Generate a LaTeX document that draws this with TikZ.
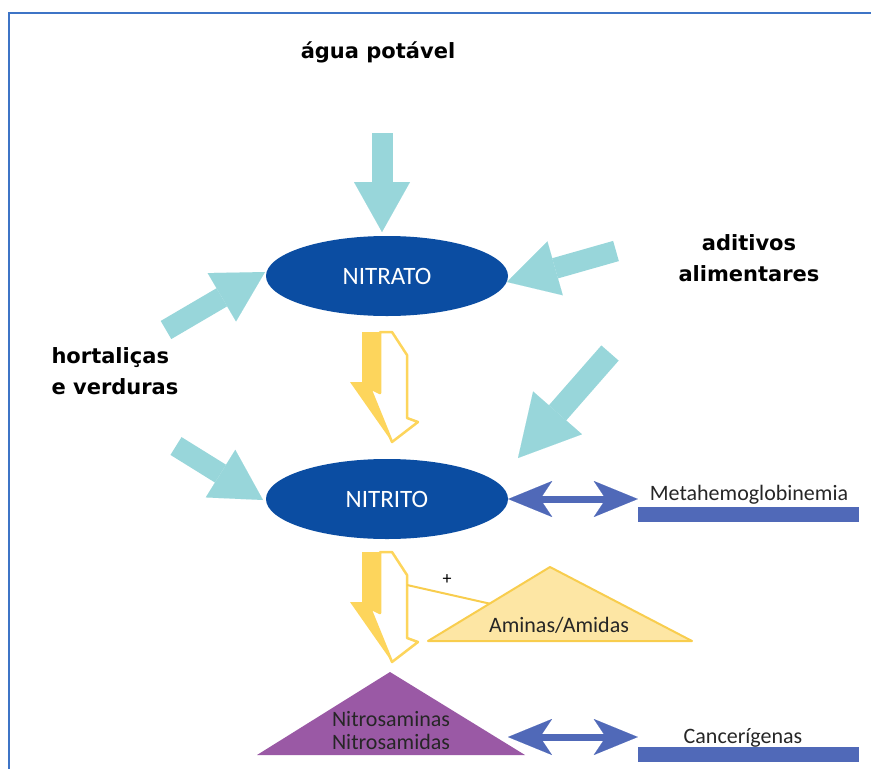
\documentclass[tikz,border=0pt]{standalone}
\usepackage{fontspec}
\setmainfont{Carlito}
\newfontfamily\labelfont{DejaVu Sans}
\usetikzlibrary{arrows.meta, shapes.geometric, positioning, calc}

\definecolor{feedcyan}{RGB}{152,214,218}
\definecolor{compblue}{RGB}{11,77,162}
\definecolor{boltyellow}{RGB}{253,213,92}
\definecolor{aminfill}{RGB}{253,230,164}
\definecolor{aminline}{RGB}{248,205,78}
\definecolor{nitropurple}{RGB}{154,89,165}
\definecolor{effectblue}{RGB}{80,105,184}
\definecolor{framecol}{RGB}{62,116,198}

\tikzset{
  compound/.style={ellipse, fill=compblue, minimum width=242pt, minimum height=80pt,
    inner sep=0pt, text=white, font=\fontsize{25}{28}\selectfont},
  source/.style={font=\labelfont\bfseries\fontsize{21}{31}\selectfont},
  feedarrow/.style={draw=feedcyan, line width=21pt,
    -{Triangle[length=50pt, width=56pt, line width=0.01pt]}},
  feedbig/.style={draw=feedcyan, line width=23pt,
    -{Triangle[length=60pt, width=65pt, line width=0.01pt]}},
  duo/.style={draw=effectblue, line width=7pt,
    {Stealth[length=44pt, width=36pt, inset=12pt, line width=0.01pt]}-{Stealth[length=44pt, width=36pt, inset=12pt, line width=0.01pt]}},
  effectbar/.style={fill=effectblue, minimum width=221pt, minimum height=15pt, inner sep=0pt},
  effect/.style={font=\fontsize{22}{24}\selectfont, text=black!85},
  bolt/.pic={
    \filldraw[fill=white, draw=boltyellow, line width=2.5pt, line join=round]
      (18,0) -- (30,0) -- (45,23) -- (45,86) -- (56,90) -- (30,110) -- (8,56) -- (18,61) -- cycle;
    \fill[boltyellow] (0,0) -- (18,0) -- (18,61) -- (8,56) -- (30,110) -- (-12,50) -- (0,50) -- cycle;
    \coordinate (-side) at (45,33);
  }
}

\begin{document}
\begin{tikzpicture}[x=1pt, y=-1pt]
\useasboundingbox (0,0) rectangle (871,769);
% frame
\draw[framecol, line width=2.5pt] (9,769) -- (9,13) -- (871,13);

% compounds
\node[compound] (nitrato) at (387,276) {NITRATO};
\node[compound] (nitrito) at (387,499) {NITRITO};

% sources
\node[source] (agua) at (378,52) {água potável};
\node[source, align=center] (aditivos) at (749,258) {aditivos\\alimentares};
\node[source, align=left, anchor=west] (hortalicas) at (48,371) {hortaliças\\e verduras};

% inputs
\coordinate (aguaT) at (382,133);
\coordinate (aguaH) at (382,232);
\coordinate (aditT) at (616,251);
\coordinate (aditH) at (507,282);
\coordinate (hortT) at (166,330);
\coordinate (hortH) at (265,272);
\coordinate (adit2T) at (610,353);
\coordinate (adit2H) at (518,458);
\coordinate (hort2T) at (176,446);
\coordinate (hort2H) at (263,500);
\draw[feedarrow] (aguaT) -- (aguaH);
\draw[feedarrow] (aditT) -- (aditH);
\draw[feedarrow] (hortT) -- (hortH);
\draw[feedbig] (adit2T) -- (adit2H);
\draw[feedarrow] (hort2T) -- (hort2H);

% conversions
\pic (boltA) at (362,332) {bolt};
\pic (boltB) at (362,552) {bolt};

% aminas / amidas
\coordinate (aminL) at (428,641);
\coordinate (aminT) at (550,567);
\coordinate (aminR) at (692,641);
\filldraw[fill=aminfill, draw=aminline, line width=2pt, line join=round] (aminL) -- (aminT) -- (aminR) -- cycle;
\node[effect, anchor=base] (aminas) at (559,632) {Aminas/Amidas};
\draw[aminline, line width=2pt] (boltB-side) -- ($(aminL)!0.505!(aminT)$);
\node[font=\fontsize{18}{20}\selectfont] (plus) at (447,580) {+};

% nitrosaminas
\fill[nitropurple] (257,755) -- (390,672) -- (525,755) -- cycle;
\node[effect, align=center, font=\fontsize{22}{23}\selectfont] (nitros) at (391,731) {Nitrosaminas\\Nitrosamidas};
\coordinate (nitrosE) at (508,737);

% effects
\node[effectbar] (metabar) at (748.5,514.5) {};
\node[effect, anchor=base] (meta) at (749,500) {Metahemoglobinemia};
\draw[duo] (nitrito.east) -- (nitrito.east -| metabar.west);

\node[effectbar] (cancerbar) at (748.5,754.5) {};
\node[effect, anchor=base] (cancer) at (743,743) {Cancerígenas};
\draw[duo] (nitrosE) -- (nitrosE -| cancerbar.west);
\end{tikzpicture}
\end{document}
